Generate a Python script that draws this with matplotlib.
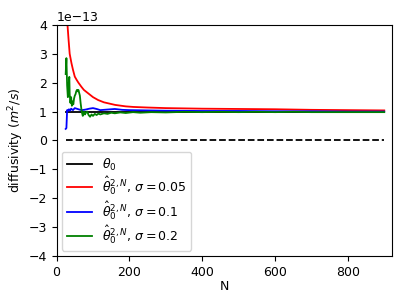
import numpy as np
import matplotlib
matplotlib.use("Agg")
import matplotlib.pyplot as plt

plt.rcParams['font.size'] = 9

scale = 1e-13

N_ref = [25, 900]
theta0 = [1.0, 1.0]
zero = [0.0, 0.0]

N_red = [25, 28, 30, 33, 36, 41, 45, 50, 55, 60, 68, 75, 87, 100, 114, 130, 161, 190, 211, 250, 300, 400, 500, 600, 700, 800, 900]
red = [4.8, 4.3, 4.0, 3.48, 3.0, 2.67, 2.45, 2.21, 2.1, 2.0, 1.86, 1.75, 1.63, 1.5, 1.40, 1.32, 1.23, 1.18, 1.16, 1.14, 1.12, 1.10, 1.09, 1.08, 1.06, 1.05, 1.04]

N_blue = [25, 27, 29, 31, 34, 37, 40, 45, 50, 55, 60, 65, 70, 80, 90, 100, 110, 120, 140, 160, 180, 200, 250, 300, 400, 500, 600, 700, 800, 900]
blue = [0.4, 0.43, 1.05, 1.02, 1.08, 1.03, 1.1, 1.05, 1.12, 1.1, 1.08, 1.06, 1.05, 1.07, 1.1, 1.12, 1.09, 1.05, 1.07, 1.09, 1.06, 1.05, 1.04, 1.03, 1.02, 1.02, 1.01, 1.01, 1.0, 1.0]

N_green = [25, 27, 29, 31, 33, 35, 36, 38, 40, 42, 44, 46, 48, 50, 52, 54, 56, 58, 60, 62, 64, 66, 68, 70, 72, 74, 76, 78, 80, 84, 88, 92, 96, 100, 105, 110, 115, 120, 130, 140, 150, 160, 175, 190, 210, 230, 260, 300, 350, 400, 450, 500, 550, 600, 650, 700, 750, 800, 850, 900]
green = [2.3, 2.85, 1.9, 1.5, 1.9, 2.2, 1.6, 1.3, 1.5, 1.2, 1.35, 1.25, 1.45, 1.55, 1.6, 1.7, 1.75, 1.7, 1.75, 1.65, 1.55, 1.3, 1.1, 0.95, 0.85, 0.95, 1.0, 0.9, 0.95, 1.0, 0.88, 0.82, 0.9, 0.85, 0.92, 0.88, 0.93, 0.9, 0.94, 0.92, 0.96, 0.94, 0.97, 0.95, 0.98, 0.96, 0.98, 0.97, 0.99, 0.98, 0.99, 0.98, 0.99, 0.98, 0.99, 0.98, 0.98, 0.98, 0.98, 0.98]

fig = plt.figure(figsize=(4.07, 3.04), dpi=100)
ax = fig.add_axes([0.139, 0.158, 0.823, 0.760])

lw = 1.3
ax.plot(N_ref, np.array(theta0) * scale, color='black', lw=lw, label=r'$\theta_0$')
ax.plot(N_red, np.array(red) * scale, color='red', lw=lw, label=r'$\hat{\theta}_0^{2,N}$, $\sigma=0.05$')
ax.plot(N_blue, np.array(blue) * scale, color='blue', lw=lw, label=r'$\hat{\theta}_0^{2,N}$, $\sigma=0.1$')
ax.plot(N_green, np.array(green) * scale, color='green', lw=lw, label=r'$\hat{\theta}_0^{2,N}$, $\sigma=0.2$')
ax.plot(N_ref, np.array(zero) * scale, color='black', lw=lw, ls='--')

ax.set_xlim(0, 920)
ax.set_ylim(-4e-13, 4e-13)
ax.set_xlabel('N', labelpad=1)
ax.set_ylabel(r'diffusivity $(m^2/s)$', labelpad=2)
ax.legend(loc='lower left', borderaxespad=0.4, handlelength=2.0, labelspacing=0.15)

fig.savefig('out.png', dpi=100)
